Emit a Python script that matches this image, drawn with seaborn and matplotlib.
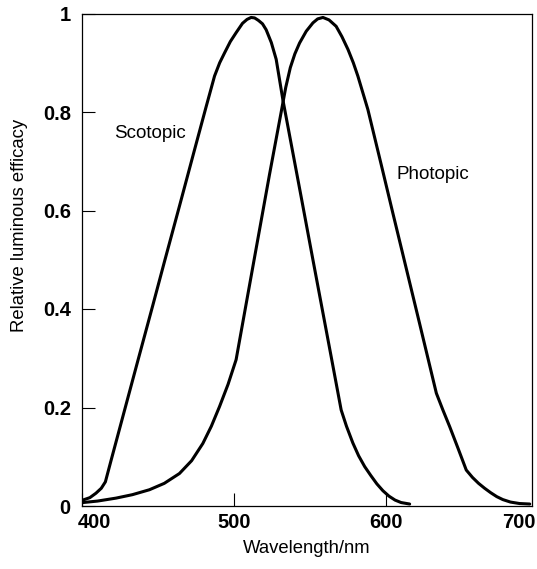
import numpy as np
import pandas as pd
import matplotlib
matplotlib.use("Agg")
import matplotlib.pyplot as plt
import matplotlib.transforms as mtransforms
import seaborn as sns

# ---- data ----
scotopic_wl = [400.3, 405.0, 409.0, 412.5, 415.2, 418.9, 427.7, 436.5, 446.4, 454.1,
               464.0, 473.9, 481.5, 487.1, 490.5, 493.7, 497.5, 501.3, 505.5, 508.5,
               511.2, 513.5, 516.0, 518.7, 521.1, 524.5, 527.7, 532.1, 537.6, 544.2,
               551.9, 559.6, 564.0, 570.5, 574.0, 578.2, 582.0, 586.0, 590.0, 594.0,
               598.0, 602.0, 606.0, 610.0, 615.6]
scotopic_v = [0.012, 0.017, 0.026, 0.036, 0.049, 0.092, 0.193, 0.294, 0.407, 0.496,
              0.609, 0.723, 0.810, 0.873, 0.900, 0.920, 0.943, 0.961, 0.980, 0.988,
              0.992, 0.991, 0.986, 0.979, 0.967, 0.941, 0.907, 0.825, 0.735, 0.627,
              0.500, 0.374, 0.302, 0.195, 0.162, 0.128, 0.102, 0.080, 0.062, 0.045,
              0.031, 0.020, 0.012, 0.007, 0.004]

photopic_wl = [400.3, 410.0, 422.2, 433.0, 444.2, 454.0, 464.0, 472.0, 479.4, 485.0,
               490.4, 496.0, 501.3, 507.9, 513.4, 523.3, 531.0, 534.0, 537.0, 540.0,
               543.1, 547.5, 551.9, 555.0, 558.5, 562.5, 567.2, 571.0, 575.0, 578.5,
               581.5, 588.1, 596.9, 604.6, 610.5, 622.2, 633.2, 637.5, 642.0, 647.5,
               652.9, 657.0, 661.0, 665.0, 669.0, 673.0, 677.0, 682.0, 688.0, 694.7]
photopic_v = [0.007, 0.010, 0.016, 0.023, 0.033, 0.046, 0.066, 0.092, 0.127, 0.162,
              0.202, 0.247, 0.297, 0.410, 0.504, 0.673, 0.800, 0.850, 0.890, 0.918,
              0.940, 0.964, 0.981, 0.989, 0.992, 0.987, 0.974, 0.953, 0.927, 0.900,
              0.873, 0.805, 0.693, 0.594, 0.519, 0.370, 0.229, 0.195, 0.161, 0.117,
              0.073, 0.058, 0.046, 0.036, 0.027, 0.019, 0.013, 0.008, 0.005, 0.004]

curve_names = ["Scotopic", "Photopic"]
xtick_vals = [400, 500, 600]
xtick_labels = ["400", "500", "600"]
end_xlabel = "700"
ytick_vals = [0, 0.2, 0.4, 0.6, 0.8, 1.0]
ytick_labels = ["0", "0.2", "0.4", "0.6", "0.8", "1"]
x_label = "Wavelength/nm"
y_label = "Relative luminous efficacy"

df = pd.concat([
    pd.DataFrame({"wl": scotopic_wl, "v": scotopic_v, "curve": curve_names[0]}),
    pd.DataFrame({"wl": photopic_wl, "v": photopic_v, "curve": curve_names[1]}),
])

sns.set_style("ticks")
plt.rcParams["font.family"] = ["Liberation Sans", "DejaVu Sans"]
plt.rcParams["text.color"] = "black"
plt.rcParams["axes.labelcolor"] = "black"
plt.rcParams["xtick.color"] = "black"
plt.rcParams["ytick.color"] = "black"
plt.rcParams["lines.solid_joinstyle"] = "round"
plt.rcParams["lines.solid_capstyle"] = "round"

fig = plt.figure(figsize=(5.37, 5.69), dpi=100)
ax = fig.add_axes([82.3 / 537, (569 - 506) / 569, (531.7 - 82.3) / 537, (506 - 13.5) / 569])

sns.lineplot(data=df, x="wl", y="v", hue="curve",
             palette={curve_names[0]: "black", curve_names[1]: "black"},
             linewidth=2.2, legend=False, ax=ax, estimator=None, sort=True)

ax.set_xlim(400, 696)
ax.set_ylim(0, 1)

for s in ax.spines.values():
    s.set_visible(True)
    s.set_linewidth(0.9)
    s.set_color("black")

ax.set_xticks(xtick_vals)
ax.set_xticklabels(xtick_labels, fontsize=14.5, fontweight="bold")
ax.set_yticks(ytick_vals)
ax.set_yticklabels(ytick_labels, fontsize=14.5, fontweight="bold")
ax.tick_params(axis="both", direction="in", length=9.4, width=0.8, color="black")
ax.tick_params(axis="x", pad=5)
ax.tick_params(axis="y", pad=8.3)

# shift the "400" label inward as in the reference
offset = mtransforms.ScaledTranslation(12.5 / 100, 0, fig.dpi_scale_trans)
lbl0 = ax.get_xticklabels()[0]
lbl0.set_transform(lbl0.get_transform() + offset)

ax.annotate(end_xlabel, xy=(1, 0), xycoords="axes fraction",
            xytext=(2.5, -5), textcoords="offset points",
            ha="right", va="top", fontsize=14.5, fontweight="bold")

ax.set_xlabel(x_label, fontsize=13.3, labelpad=6)
ax.set_ylabel(y_label, fontsize=13.3)
ax.yaxis.set_label_coords(-0.120, 0.569)

ax.text(421.2, 0.756, curve_names[0], fontsize=13.5, ha="left", va="center")
ax.text(606.8, 0.673, curve_names[1], fontsize=13.5, ha="left", va="center")

fig.savefig("out.png", dpi=100)
